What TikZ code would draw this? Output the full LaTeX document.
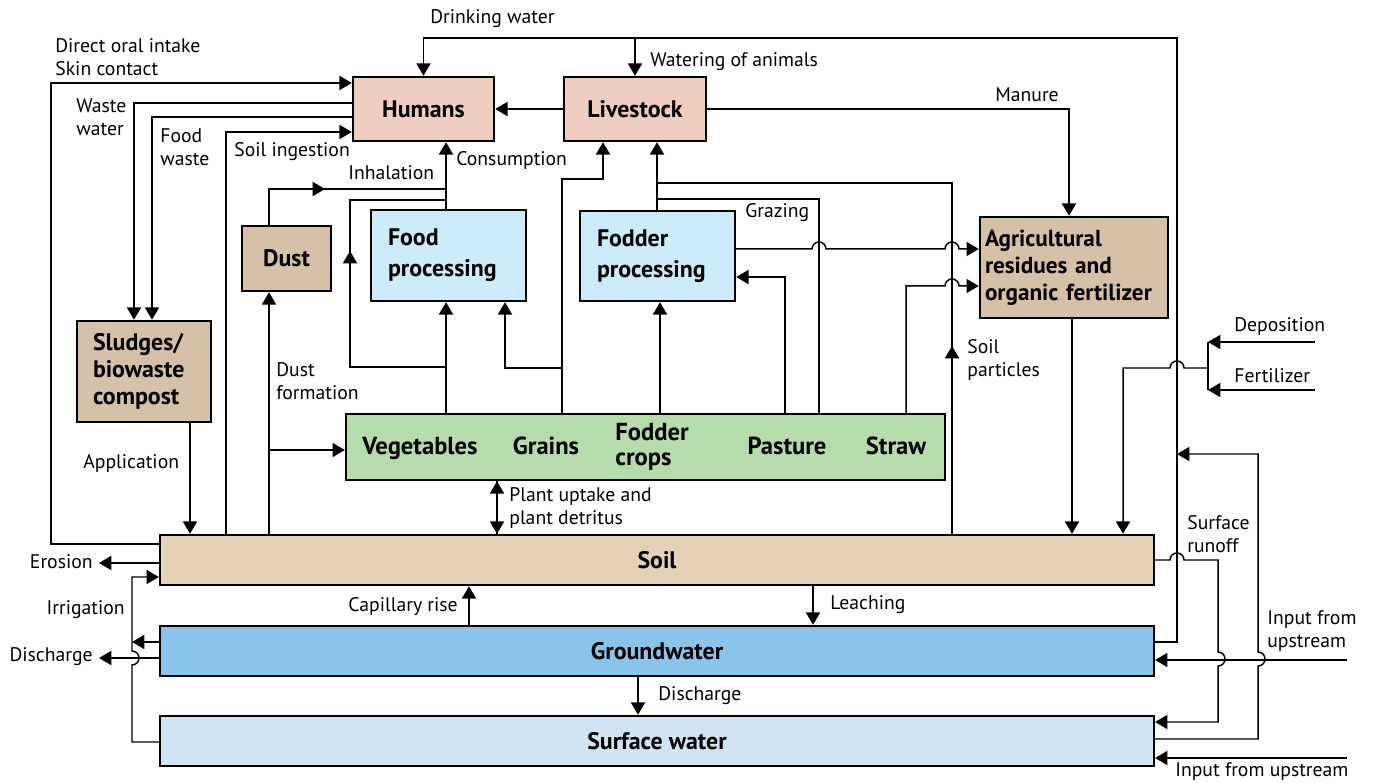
\documentclass[tikz,border=0pt]{standalone}
\usepackage{fontspec}
\setmainfont{PT Sans}
\usepackage{tikz}
\usetikzlibrary{arrows.meta,positioning,calc}

\definecolor{humanpink}{RGB}{240,205,193}
\definecolor{procblue}{RGB}{204,235,251}
\definecolor{residuetan}{RGB}{214,192,168}
\definecolor{plantgreen}{RGB}{182,220,172}
\definecolor{soiltan}{RGB}{228,208,180}
\definecolor{groundblue}{RGB}{138,196,234}
\definecolor{surfaceblue}{RGB}{208,228,244}

\tikzset{
	compartment/.style={
		rectangle, draw=black, line width=1.4pt, inner sep=0pt,
		font=\fontsize{13.6}{15.5}\selectfont\bfseries
	},
	%
	layer/.style={
		compartment, minimum width=19.88cm, minimum height=1cm
	},
	%
	flowline/.style={
		line width=0.85pt, -{Triangle[length=7pt,width=8pt]}
	},
	%
	plainline/.style={
		line width=0.85pt
	},
	%
	mylabel/.style={
		font=\fontsize{11.2}{13}\selectfont, inner sep=0pt, align=left
	},
	%
	croplabel/.style={
		font=\fontsize{14}{14.3}\selectfont\bfseries, inner sep=0pt, align=left
	}
}

\begin{document}
\begin{tikzpicture}[x=0.02cm,y=-0.02cm]
\useasboundingbox (0,0) rectangle (1373,783);

%compartments
\node (Humans) [compartment, fill=humanpink, minimum width=2.82cm, minimum height=1.28cm] at (423.5,109) {Humans};
\node (Livestock) [compartment, fill=humanpink, minimum width=2.84cm, minimum height=1.28cm] at (635,109) {Livestock};
\node (FoodProc) [compartment, fill=procblue, font=\fontsize{13.6}{17.5}\selectfont\bfseries, text width=2.42cm, inner xsep=0.34cm, minimum height=1.82cm] at (448.5,255.5) {Food\\processing};
\node (FodderProc) [compartment, fill=procblue, font=\fontsize{13.6}{17.5}\selectfont\bfseries, text width=2.42cm, inner xsep=0.34cm, minimum height=1.8cm] at (657.5,256) {Fodder\\processing};
\node (Dust) [compartment, fill=residuetan, minimum width=1.78cm, minimum height=1.3cm] at (286.5,258.5) {Dust};
\node (Agri) [compartment, fill=residuetan, font=\fontsize{13.2}{15.5}\selectfont\bfseries, text width=3.56cm, inner xsep=0.1cm, minimum height=2.02cm] at (1074,267.5) {Agricultural\\residues and\\organic fertilizer};
\node (Sludge) [compartment, fill=residuetan, text width=2.04cm, inner xsep=0.32cm, minimum height=2.02cm] at (144,371.5) {Sludges/\\biowaste\\compost};
\node (Plants) [compartment, fill=plantgreen, minimum width=11.98cm, minimum height=1.32cm] at (645.5,447) {};
\node (Soil) [layer, fill=soiltan] at (657,560) {Soil};
\node (GW) [layer, fill=groundblue] at (657,651) {Groundwater};
\node (SW) [layer, fill=surfaceblue] at (657,741) {Surface water};

%crops
\node (Veg) [croplabel, anchor=base] at (420,455) {Vegetables};
\node (Grain) [croplabel, anchor=base] at (546,455) {Grains};
\node (FodderCrop) [croplabel, anchor=west] at (615,447) {Fodder\\crops};
\node (Pasture) [croplabel, anchor=base] at (787,455) {Pasture};
\node (Straw) [croplabel, anchor=base] at (896,455) {Straw};

%arrows
% water supply
\draw[flowline] (GW.east |- 0,642) -- (1177,642) -- (1177,38) -| (Humans.north);
\draw[flowline] (635,38) -- (Livestock.north);
\draw[flowline] (Soil.west |- 0,544) -- (51,544) -- (51,83) -- (Humans.west |- 0,83);
\draw[flowline] (Humans.west |- 0,103) -- (134,103) -- (134,0 |- Sludge.north);
\draw[flowline] (Humans.west |- 0,117) -- (152,117) -- (152,0 |- Sludge.north);
\draw[flowline] (226,0 |- Soil.north) -- (226,132) -- (Humans.west |- 0,132);
\draw[flowline] (Livestock.west) -- (Humans.east);

% dust
\draw[flowline] (269,0 |- Soil.north) -- (269,0 |- Dust.south);
\draw[flowline] (269,450) -- (Plants.west |- 0,450);
\draw[flowline] (269,0 |- Dust.north) -- (269,189) -- (325,189);
\draw[plainline] (320,189) -- (446,189);

% food
\draw[flowline] (446,0 |- FoodProc.north) -- (446,0 |- Humans.south);
\draw[flowline] (446,0 |- Plants.north) -- (446,0 |- FoodProc.south);
\draw[flowline] (446,367) -- (350,367) -- (350,251);
\draw[plainline] (350,256) -- (350,200) -- (446,200);
\draw[flowline] (562,0 |- Plants.north) -- (562,179) -- (603,179) -- (603,0 |- Livestock.south);
\draw[flowline] (562,368) -- (505,368) -- (505,0 |- FoodProc.south);

% fodder
\draw[flowline] (660,0 |- Plants.north) -- (660,0 |- FodderProc.south);
\draw[flowline] (657,0 |- FodderProc.north) -- (657,0 |- Livestock.south);
\draw[flowline] (952,0 |- Soil.north) -- (952,346);
\draw[plainline] (952,350) -- (952,183) -- (657,183);
\draw[plainline] (819,0 |- Plants.north) -- (819,199) -- (657,199);
\draw[flowline] (785,0 |- Plants.north) -- (785,277) -- (FodderProc.east |- 0,277);
\draw[flowline] (FodderProc.east |- 0,249) -- (812,249) arc[start angle=180,end angle=0,radius=0.14cm] -- (945,249) arc[start angle=180,end angle=0,radius=0.14cm] -- (Agri.west |- 0,249);
\draw[flowline] (906,0 |- Plants.north) -- (906,286) -- (945,286) arc[start angle=180,end angle=0,radius=0.14cm] -- (Agri.west |- 0,286);

% residues
\draw[flowline] (Livestock.east) -- (1069,109) -- (1069,0 |- Agri.north);
\draw[flowline] (1072,0 |- Agri.south) -- (1072,0 |- Soil.north);
\draw[flowline] (190,0 |- Sludge.south) -- (190,0 |- Soil.north);

% inputs
\coordinate (DepIn) at (1315,342);
\coordinate (FertIn) at (1315,390);
\draw[flowline] (DepIn) -- (1208,342);
\draw[flowline] (FertIn) -- (1208,390);
\draw[plainline] (1208,342) -- (1208,390);
\draw[flowline] (1208,368) -- (1184,368) arc[start angle=0,end angle=180,radius=0.14cm] -- (1123,368) -- (1123,0 |- Soil.north);
\draw[flowline] (Plants.south -| 497,0) -- (497,0 |- Soil.north);
\draw[flowline] (497,0 |- Soil.north) -- (497,0 |- Plants.south);

% water layers
\draw[flowline] (Soil.east) -- (1170,560) arc[start angle=180,end angle=0,radius=0.14cm] -- (1218,560) -- (1218,652) arc[start angle=90,end angle=-90,radius=0.14cm] -- (1218,722) -- (SW.east |- 0,722);
\draw[flowline] (SW.east |- 0,739) -- (1258,739) -- (1258,666) arc[start angle=-90,end angle=90,radius=0.14cm] -- (1258,454) -- (1177,454);
\coordinate (GWIn) at (1347,660);
\coordinate (SWIn) at (1347,758);
\draw[flowline] (GWIn) -- (GW.east |- 0,660);
\draw[flowline] (SWIn) -- (SW.east |- 0,758);
\draw[flowline] (Soil.west |- 0,563) -- (99,563);
\draw[flowline] (GW.west |- 0,658) -- (99,658);
\draw[flowline] (SW.west |- 0,742) -- (132,742) -- (132,665) arc[start angle=-90,end angle=90,radius=0.14cm] -- (132,577) -- (Soil.west |- 0,577);
\draw[flowline] (GW.west |- 0,642) -- (132,642);
\draw[flowline] (469,0 |- GW.north) -- (469,0 |- Soil.south);
\draw[flowline] (813,0 |- Soil.south) -- (813,0 |- GW.north);
\draw[flowline] (638,0 |- GW.south) -- (638,0 |- SW.north);

%labels
\node (lDrink) [mylabel, anchor=west] at (430,19) {Drinking water};
\node (lWatering) [mylabel, anchor=west] at (650,62) {Watering of animals};
\node (lOral) [mylabel, anchor=west] at (55,57) {Direct oral intake\\Skin contact};
\node (lWaste) [mylabel, anchor=west] at (76,117) {Waste\\water};
\node (lFoodWaste) [mylabel, anchor=west] at (160,147) {Food\\waste};
\node (lIngest) [mylabel, anchor=west] at (234,152) {Soil ingestion};
\node (lInhal) [mylabel, anchor=west] at (348,173) {Inhalation};
\node (lConsum) [mylabel, anchor=west] at (456,160) {Consumption};
\node (lGrazing) [mylabel, anchor=west] at (745,213) {Grazing};
\node (lManure) [mylabel, anchor=west] at (995,95) {Manure};
\node (lDustForm) [mylabel, anchor=west] at (276,381) {Dust\\formation};
\node (lParticles) [mylabel, anchor=west] at (967,360) {Soil\\particles};
\node (lDeposition) [mylabel, anchor=west] at (1234,327) {Deposition};
\node (lFertilizer) [mylabel, anchor=west] at (1234,376) {Fertilizer};
\node (lApplication) [mylabel, anchor=west] at (83,463) {Application};
\node (lUptake) [mylabel, anchor=west] at (509,508) {Plant uptake and\\plant detritus};
\node (lRunoff) [mylabel, anchor=west] at (1187,534) {Surface\\runoff};
\node (lErosion) [mylabel, anchor=east] at (93,562) {Erosion};
\node (lIrrigation) [mylabel, anchor=east] at (125,610) {Irrigation};
\node (lDischargeL) [mylabel, anchor=east] at (93,657) {Discharge};
\node (lCapillary) [mylabel, anchor=east] at (458,607) {Capillary rise};
\node (lLeaching) [mylabel, anchor=west] at (830,605) {Leaching};
\node (lDischarge) [mylabel, anchor=west] at (658,696) {Discharge};
\node (lUpstreamGW) [mylabel, anchor=west] at (1267,631) {Input from\\upstream};
\node (lUpstreamSW) [mylabel, anchor=west] at (1175,772) {Input from upstream};

\end{tikzpicture}
\end{document}
